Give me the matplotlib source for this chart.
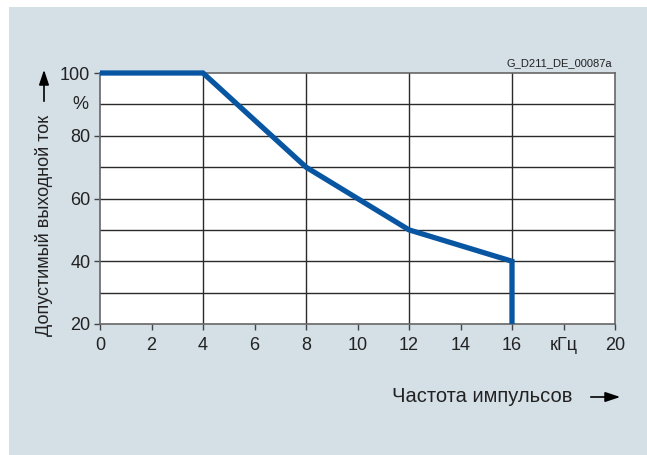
import matplotlib.pyplot as plt
from matplotlib.patches import Rectangle

plt.rcParams['font.family'] = ['Liberation Sans', 'DejaVu Sans']

# derating curve: pulse frequency (kHz) vs permissible output current (%)
freq_khz = [0, 4, 8, 12, 16, 16]
current_pct = [100, 100, 70, 50, 40, 20]

x_ticks = [0, 2, 4, 6, 8, 10, 12, 14, 16, 18, 20]
x_labels = ['0', '2', '4', '6', '8', '10', '12', '14', '16', 'кГц', '20']
y_ticks = [20, 40, 60, 80, 100]
y_labels = ['20', '40', '60', '80', '100']

bg = '#d4dfe6'
fig = plt.figure(figsize=(6.47, 4.55), dpi=100)
fig.patch.set_facecolor('white')
fig.patches.append(Rectangle((9 / 647, 0), 1, 1 - 7 / 455, transform=fig.transFigure,
                             facecolor=bg, edgecolor='none', zorder=-10))

ax = fig.add_axes([100 / 647, 1 - 324 / 455, 515 / 647, 251 / 455])
ax.set_facecolor('white')
ax.set_xlim(0, 20)
ax.set_ylim(20, 100)

for gx in [4, 8, 12, 16]:
    ax.axvline(gx, color='#2a2a2a', lw=1.0, zorder=1)
for gy in range(30, 100, 10):
    ax.axhline(gy, color='#2a2a2a', lw=1.0, zorder=1)

ax.plot(freq_khz, current_pct, color='#0856a2', lw=3.8, solid_capstyle='butt',
        solid_joinstyle='miter', zorder=3, clip_on=False)

for s in ax.spines.values():
    s.set_color('#666666')
    s.set_linewidth(1.2)

ax.set_xticks(x_ticks)
ax.set_xticklabels(x_labels)
ax.set_yticks(y_ticks)
ax.set_yticklabels(y_labels)
ax.tick_params(direction='out', length=4, width=1, color='#444444',
               labelsize=13, labelcolor='#222222')
ax.tick_params(axis='x', pad=5)
ax.tick_params(axis='y', pad=3)

# unit label for the y axis
ax.text(-0.45, 90, '%', ha='right', va='center', fontsize=13, color='#222222')

fig.text(612 / 647, 1 - 63 / 455, 'G_D211_DE_00087a', ha='right', va='center',
         fontsize=8, color='#222222')

fig.text(44 / 647, 1 - 225 / 455, 'Допустимый выходной ток', rotation=90,
         ha='center', va='center', fontsize=13, color='#222222')
fig.text(482 / 647, 1 - 397 / 455, 'Частота импульсов', ha='center', va='center',
         fontsize=14.5, color='#222222')

arrow = dict(arrowstyle='-|>,head_length=0.9,head_width=0.3', color='black', lw=1.2)
fig.add_artist(plt.Annotation('', xy=(44 / 647, 1 - 67 / 455), xytext=(44 / 647, 1 - 104 / 455),
                              xycoords='figure fraction', textcoords='figure fraction',
                              arrowprops=arrow))
fig.add_artist(plt.Annotation('', xy=(623 / 647, 1 - 397 / 455), xytext=(588 / 647, 1 - 397 / 455),
                              xycoords='figure fraction', textcoords='figure fraction',
                              arrowprops=arrow))

fig.savefig('out.png', dpi=100)
